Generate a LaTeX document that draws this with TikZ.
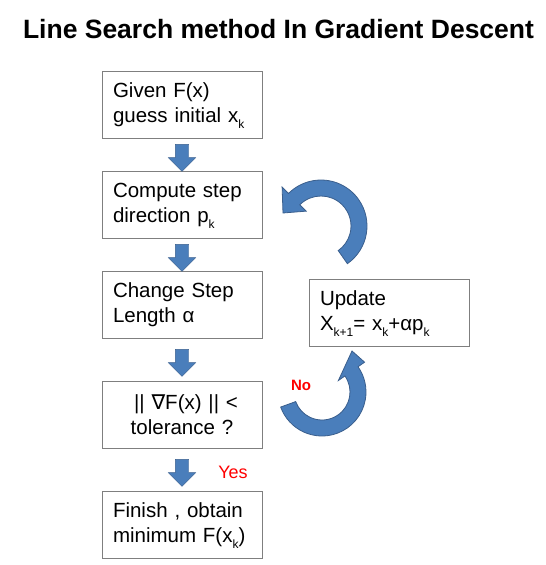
\documentclass[tikz,border=0pt]{standalone}
\usepackage{fontspec}
\setmainfont{Liberation Sans}
\newfontfamily\symfont{DejaVu Sans}
\usetikzlibrary{shapes,arrows,positioning,calc}
\definecolor{arrblue}{RGB}{74,126,187}
\definecolor{arredge}{RGB}{58,94,140}
\definecolor{boxline}{RGB}{127,127,127}
\newcommand{\lowsub}[1]{\raisebox{-6pt}[0pt][0pt]{\fontsize{12}{12}\selectfont #1}}

\begin{document}
\begin{tikzpicture}[x=1pt,y=1pt,
  stepbox/.style={draw=boxline,line width=1pt,minimum width=160pt,minimum height=67pt,text width=138pt,align=left,inner sep=0pt,font=\fontsize{20.5}{25}\selectfont},
  downarr/.style={single arrow,draw=arredge,fill=arrblue,rotate=-90,minimum height=27pt,minimum width=27pt,inner sep=6.5pt,single arrow head extend=7pt},
  loopbody/.style={draw=arredge,fill=arrblue,line width=0.8pt}]
 \useasboundingbox (0,0) rectangle (546,-565);
 \node[font=\bfseries\fontsize{26.5}{26.5}\selectfont,anchor=base] (title) at (278.5,-38) {Line Search method In Gradient Descent};
 \node[stepbox] (given) at (182,-104.5) {Given F(x)\\guess initial x\lowsub{k}};
 \node[stepbox] (compute) at (182,-204.5) {Compute step\\direction p\lowsub{k}};
 \node[stepbox] (change) at (182,-304.5) {Change Step\\Length α};
 \node[stepbox,align=center] (check) at (182,-414.5) {\hspace*{8pt}|| {\symfont ∇}F(x) || <\\tolerance ?};
 \node[stepbox] (finish) at (182,-524.5) {Finish , obtain\\minimum F(x\lowsub{k})};
 \node[stepbox] (update) at (389,-312.5) {Update\\X\lowsub{k+1}= x\lowsub{k}+αp\lowsub{k}};
 \node[downarr] (a1) at ($(given.south)!0.5!(compute.north)$) {};
 \node[downarr] (a2) at ($(compute.south)!0.5!(change.north)$) {};
 \node[downarr] (a3) at ($(change.south)!0.5!(check.north)$) {};
 \node[downarr] (a4) at ($(check.south)!0.5!(finish.north)$) {};
 \coordinate (c1) at (321,-226);
 \coordinate (c2) at (322,-392);
 \filldraw[loopbody] ($(c1)+(-55:46pt)$) arc[start angle=-55,end angle=135,radius=46pt] -- ($(c1)+(135:55pt)$) -- (283,-213) -- ($(c1)+(135:21pt)$) -- ($(c1)+(135:30pt)$) arc[start angle=135,end angle=-55,radius=30pt] -- cycle;
 \filldraw[loopbody] ($(c2)+(200:44pt)$) arc[start angle=200,end angle=395,radius=44pt] -- ($(c2)+(35:52pt)$) -- (352,-351) -- ($(c2)+(35:20pt)$) -- ($(c2)+(35:28pt)$) arc[start angle=395,end angle=200,radius=28pt] -- cycle;
 \node[text=red,font=\bfseries\fontsize{15}{15}\selectfont] (no) at (301,-385) {No};
 \node[text=red,font=\fontsize{18}{18}\selectfont,anchor=base] (yes) at (233,-478) {Yes};
\end{tikzpicture}
\end{document}
